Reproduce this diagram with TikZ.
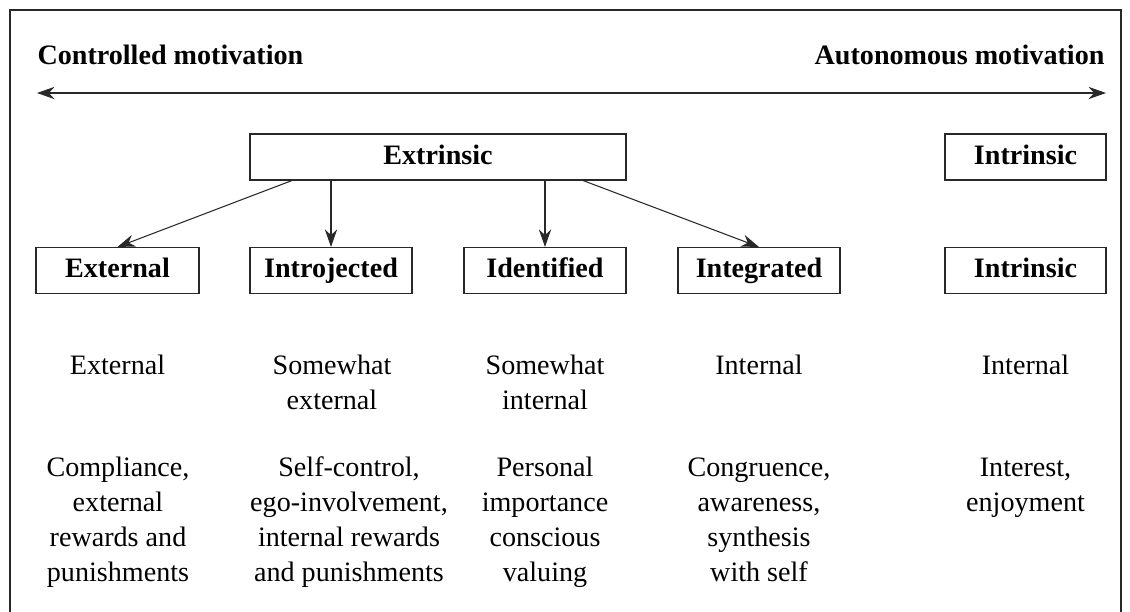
\documentclass[tikz,border=0pt]{standalone}
\usepackage{fontspec}
\setmainfont{Liberation Serif}
\usepackage{tikz}
\usetikzlibrary{arrows.meta}
\definecolor{line_grey}{RGB}{40,40,40}

\begin{document}
\fontsize{16}{20}\selectfont
\begin{tikzpicture}[->,semithick,>={Stealth[length=10pt,width=7pt]},line_grey]
    \tikzstyle{heading}=[inner sep=0pt,text=black,font=\bfseries]
    \tikzstyle{kind}=[draw, rectangle, minimum height=0.92cm, minimum width=3.24cm, inner sep=0pt, text=black, font=\bfseries, text height=11pt, text depth=3pt]
    \tikzstyle{desc}=[inner sep=0pt, anchor=base, align=center, text=black]

    \useasboundingbox (0,0) rectangle (22.6,12.24);
    % frame (open at the bottom)
    \draw[-] (0.2,0) |- (22.42,12.04) -- (22.42,0);

    \node[heading,anchor=base west] (ctl) at (0.74,10.94)  {Controlled motivation};
    \node[heading,anchor=base east] (aut) at (22.1,10.94)  {Autonomous motivation};
    \coordinate (cl) at (0.74,10.38);
    \coordinate (cr) at (22.12,10.38);

    \node[kind,minimum width=7.52cm] (extr) at (8.76,9.1)   {Extrinsic};
    \node[kind,minimum width=3.22cm] (intr) at (20.51,9.1)  {Intrinsic};

    \node[kind,minimum width=3.26cm] (ext) at (2.35,6.83)  {External};
    \node[kind]                      (ij)  at (6.62,6.83)  {Introjected};
    \node[kind]                      (id)  at (10.9,6.83)  {Identified};
    \node[kind]                      (ig)  at (15.18,6.83) {Integrated};
    \node[kind,minimum width=3.22cm] (in)  at (20.51,6.83) {Intrinsic};

    % base = baseline of the last line
    \node[desc] (ext1) at (2.35,4.74)  {External};
    \node[desc] (ij1)  at (6.64,4.04)  {Somewhat\\external};
    \node[desc] (id1)  at (10.9,4.04)  {Somewhat\\internal};
    \node[desc] (ig1)  at (15.18,4.74) {Internal};
    \node[desc] (in1)  at (20.51,4.74) {Internal};

    \node[desc] (ext2) at (2.36,0.6)   {Compliance,\\external\\rewards and\\punishments};
    \node[desc] (ij2)  at (6.98,0.6)   {Self-control,\\ego-involvement,\\internal rewards\\and punishments};
    \node[desc] (id2)  at (10.9,0.6)   {Personal\\importance\\conscious\\valuing};
    \node[desc] (ig2)  at (15.18,0.6)  {Congruence,\\awareness,\\synthesis\\with self};
    \node[desc] (in2)  at (20.51,2.0)  {Interest,\\enjoyment};

    \path
     (cl) edge[<->] (cr)
     ([xshift=-2.92cm]extr.south) edge (ext.north)
     (extr.south -| ij) edge (ij)
     (extr.south -| id) edge (id)
     ([xshift=2.9cm]extr.south) edge (ig.north);
  \end{tikzpicture}
\end{document}
